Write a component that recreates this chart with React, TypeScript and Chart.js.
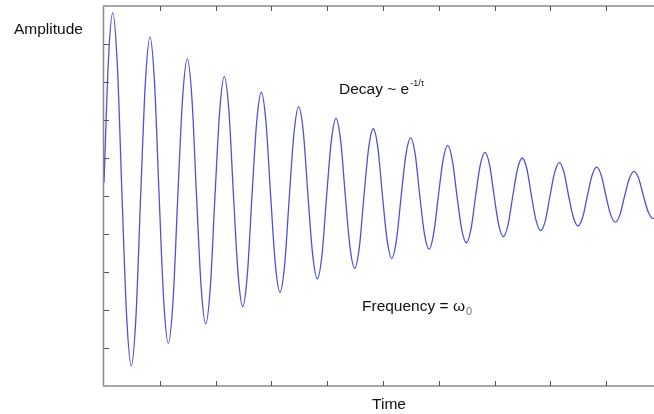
import React, { useEffect, useRef } from "react";
import { Chart, registerables, Plugin } from "chart.js";

Chart.register(...registerables);

// Damped oscillation samples: each row holds one half-cycle
// (rise / extreme / fall towards the next zero crossing)
const timeValues: number[] = [
  0.0, 0.08, 0.156, 0.24, 0.323,
  0.406, 0.489, 0.573, 0.657,
  0.741, 0.824, 0.906, 0.988,
  1.07, 1.152, 1.238, 1.323,
  1.408, 1.493, 1.576, 1.658,
  1.741, 1.823, 1.906, 1.989,
  2.073, 2.156, 2.239, 2.321,
  2.404, 2.486, 2.569, 2.652,
  2.736, 2.819, 2.903, 2.987,
  3.071, 3.154, 3.238, 3.322,
  3.406, 3.489, 3.573, 3.656,
  3.74, 3.823, 3.907, 3.99,
  4.074, 4.158, 4.242, 4.325,
  4.409, 4.493, 4.576, 4.659,
  4.743, 4.826, 4.909, 4.991,
  5.074, 5.156, 5.241, 5.326,
  5.411, 5.496, 5.578, 5.66,
  5.742, 5.824, 5.908, 5.992,
  6.076, 6.159, 6.243, 6.326,
  6.41, 6.493, 6.577, 6.66,
  6.744, 6.828, 6.91, 6.992,
  7.074, 7.156, 7.241, 7.326,
  7.411, 7.496, 7.579, 7.661,
  7.744, 7.826, 7.91, 7.993,
  8.077, 8.16, 8.244, 8.327,
  8.411, 8.495, 8.579, 8.662,
  8.746, 8.83, 8.913, 8.996,
  9.08, 9.163, 9.247, 9.331,
  9.415, 9.498, 9.583, 9.668,
  9.754, 9.839, 9.857,
];

const amplitudeValues: number[] = [
  0.35, 3.6, 4.82, 3.42, 0,
  -3.17, -4.47, -3.17, 0,
  2.97, 4.18, 2.97, 0,
  -2.75, -3.88, -2.75, 0,
  2.56, 3.61, 2.56, 0,
  -2.39, -3.37, -2.39, 0,
  2.23, 3.14, 2.23, 0,
  -2.07, -2.91, -2.07, 0,
  1.94, 2.73, 1.94, 0,
  -1.8, -2.53, -1.8, 0,
  1.67, 2.35, 1.67, 0,
  -1.55, -2.18, -1.55, 0,
  1.45, 2.04, 1.45, 0,
  -1.35, -1.9, -1.35, 0,
  1.26, 1.77, 1.26, 0,
  -1.16, -1.64, -1.16, 0,
  1.09, 1.53, 1.09, 0,
  -0.99, -1.4, -0.99, 0,
  0.94, 1.33, 0.94, 0,
  -0.87, -1.23, -0.87, 0,
  0.82, 1.15, 0.82, 0,
  -0.76, -1.07, -0.76, 0,
  0.71, 1.0, 0.71, 0,
  -0.65, -0.91, -0.65, 0,
  0.62, 0.88, 0.62, 0,
  -0.56, -0.79, -0.56, 0,
  0.54, 0.76, 0.54, 0,
  -0.49, -0.69, -0.49, 0,
  0.46, 0.65, 0.46, 0,
  -0.42, -0.59, -0.59,
];

const timeTicks: number[] = [1, 2, 3, 4, 5, 6, 7, 8, 9];
const amplitudeTicks: number[] = [-4, -3, -2, -1, 0, 1, 2, 3, 4];

const TIME_MAX = 9.857;
const AMP_MIN = -5;
const AMP_MAX = 5;

const FONT = '"Liberation Sans", Arial, sans-serif';

const framePlugin: Plugin<"line"> = {
  id: "frame",
  beforeDatasetsDraw(chart) {
    const { ctx, chartArea, scales } = chart;
    const xs = scales.x;
    const ys = scales.y;
    ctx.save();
    // axis frame: left, top and bottom lines
    ctx.strokeStyle = "#8a8a8a";
    ctx.lineWidth = 1.5;
    ctx.beginPath();
    ctx.moveTo(chartArea.left - 0.5, chartArea.top);
    ctx.lineTo(chartArea.left - 0.5, chartArea.bottom);
    ctx.moveTo(chartArea.left - 1, chartArea.top);
    ctx.lineTo(chartArea.right, chartArea.top);
    ctx.moveTo(chartArea.left - 1, chartArea.bottom);
    ctx.lineTo(chartArea.right, chartArea.bottom);
    ctx.stroke();

    // inward tick marks
    ctx.strokeStyle = "#555555";
    ctx.lineWidth = 1;
    ctx.beginPath();
    for (const t of timeTicks) {
      const px = Math.round(xs.getPixelForValue(t)) + 0.5;
      ctx.moveTo(px, chartArea.bottom);
      ctx.lineTo(px, chartArea.bottom - 5);
      ctx.moveTo(px, chartArea.top);
      ctx.lineTo(px, chartArea.top + 5);
    }
    for (const a of amplitudeTicks) {
      const py = Math.round(ys.getPixelForValue(a)) + 0.5;
      ctx.moveTo(chartArea.left, py);
      ctx.lineTo(chartArea.left + 5, py);
    }
    ctx.stroke();
    ctx.restore();
  },
  afterDraw(chart) {
    const { ctx } = chart;
    ctx.save();
    ctx.fillStyle = "#111111";
    ctx.textBaseline = "alphabetic";

    ctx.font = `15.5px ${FONT}`;
    ctx.textAlign = "left";
    ctx.fillText("Amplitude", 14, 34);

    ctx.textAlign = "center";
    ctx.fillText("Time", 389, 409);

    ctx.textAlign = "left";
    const decay = "Decay ~ e";
    ctx.fillText(decay, 339, 94);
    const dw = ctx.measureText(decay).width;
    ctx.font = `9px ${FONT}`;
    ctx.fillText("-1/\u03c4", 339 + dw + 1, 86);

    ctx.font = `15.5px ${FONT}`;
    const freq = "Frequency = \u03c9";
    ctx.fillText(freq, 362, 311);
    const fw = ctx.measureText(freq).width;
    ctx.font = `11px ${FONT}`;
    ctx.fillStyle = "#777777";
    ctx.fillText("0", 362 + fw + 1, 315);
    ctx.restore();
  },
};

export default function App() {
  const canvasRef = useRef<HTMLCanvasElement | null>(null);

  useEffect(() => {
    if (!canvasRef.current) return;
    const points = timeValues.map((t, i) => ({ x: t, y: amplitudeValues[i] }));
    const chart = new Chart(canvasRef.current, {
      type: "line",
      data: {
        datasets: [
          {
            data: points,
            borderColor: "rgb(80,80,215)",
            borderWidth: 1.3,
            pointRadius: 0,
            fill: false,
            cubicInterpolationMode: "monotone",
          },
        ],
      },
      options: {
        responsive: false,
        animation: false,
        events: [],
        layout: { padding: { left: 104, top: 6, right: 0, bottom: 28 } },
        plugins: {
          legend: { display: false },
          tooltip: { enabled: false },
          title: { display: false },
        },
        scales: {
          x: { type: "linear", min: 0, max: TIME_MAX, display: false },
          y: { type: "linear", min: AMP_MIN, max: AMP_MAX, display: false },
        },
      },
      plugins: [framePlugin],
    });
    return () => chart.destroy();
  }, []);

  return (
    <div
      style={{
        position: "fixed",
        left: 0,
        top: 0,
        width: 654,
        height: 414,
        background: "#ffffff",
        overflow: "hidden",
      }}
    >
      <canvas ref={canvasRef} width={654} height={414} style={{ display: "block" }} />
    </div>
  );
}
